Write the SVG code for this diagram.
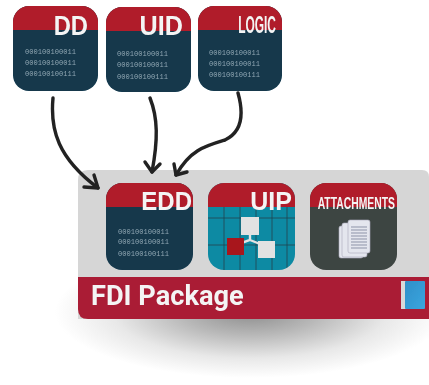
<svg xmlns="http://www.w3.org/2000/svg" width="429" height="385" viewBox="0 0 429 385">
<style>
.hd{font-family:"Liberation Sans",Arial,sans-serif;font-weight:700;fill:#f4f4f4;text-anchor:end}
.bin{font-family:"Liberation Mono",monospace;font-size:7.1px;fill:#92a6b0}
.navy{fill:#12374c}.red{fill:#b01e2a}
.wire{fill:none;stroke:#222;stroke-width:3.4;stroke-linecap:round;stroke-linejoin:round}
.page{fill:#e4e6ee;stroke:#aab;stroke-width:.6}
.rule{stroke:#8d93a8;stroke-width:1}
.grid{stroke:#1d4a58;stroke-width:.9;fill:none}
</style>
<defs>
<filter id="soft" x="-5%" y="-5%" width="110%" height="110%"><feGaussianBlur stdDeviation="0.7"/></filter>
<radialGradient id="shade"><stop offset="0" stop-color="#8c8c8c"/><stop offset=".35" stop-color="#b8b8b8"/><stop offset=".7" stop-color="#e8e8e8"/><stop offset="1" stop-color="#fff"/></radialGradient>
<clipPath id="c1"><rect x="13" y="6" width="85" height="85" rx="16"/></clipPath>
<clipPath id="c2"><rect x="106" y="7" width="85" height="85" rx="16"/></clipPath>
<clipPath id="c3"><rect x="198" y="6" width="84" height="85" rx="16"/></clipPath>
<clipPath id="c4"><rect x="106" y="183" width="87" height="87" rx="16"/></clipPath>
<clipPath id="c5"><rect x="208" y="183" width="87" height="87" rx="16"/></clipPath>
<clipPath id="c6"><rect x="310" y="183" width="87" height="87" rx="16"/></clipPath>
<linearGradient id="book" x1="0" x2="1" y1="0" y2="1"><stop offset="0" stop-color="#2f8fc9"/><stop offset="1" stop-color="#3ba6df"/></linearGradient>
</defs>
<rect width="429" height="385" fill="#fff"/>
<g filter="url(#soft)">
<ellipse id="shadow" cx="250" cy="312" rx="195" ry="66" fill="url(#shade)"/>
<g id="package">
<path d="M88 170H422Q429 170 429 177V319H78V180Q78 170 88 170Z" fill="#d6d6d6"/>
<path d="M78 277H429V319H88Q78 319 78 309Z" fill="#aa1c35"/>
<text x="91" y="305" style="font-family:Roboto,'Liberation Sans',sans-serif;font-weight:700;font-size:27.2px;fill:#f4f4f4">FDI Package</text>
<rect x="401" y="281" width="5" height="28" fill="#d9d9d9"/>
<rect x="405" y="281" width="20" height="28" rx="1" fill="url(#book)"/>
</g>
<g id="dd">
<g clip-path="url(#c1)"><rect class="navy" x="13" y="6" width="85" height="85"/><rect class="red" x="13" y="6" width="85" height="24"/></g>
<text class="hd" transform="translate(88 35) scale(.85 1)" font-size="28">DD</text>
<text class="bin" x="25" y="54">000100100011</text><text class="bin" x="25" y="65">000100100011</text><text class="bin" x="25" y="76">000100100111</text>
</g>
<g id="uid">
<g clip-path="url(#c2)"><rect class="navy" x="106" y="7" width="85" height="85"/><rect class="red" x="106" y="7" width="85" height="24"/></g>
<text class="hd" transform="translate(183 35) scale(.9 1)" font-size="28">UID</text>
<text class="bin" x="117" y="56">000100100011</text><text class="bin" x="117" y="67">000100100011</text><text class="bin" x="117" y="79">000100100111</text>
</g>
<g id="logic">
<g clip-path="url(#c3)"><rect class="navy" x="198" y="6" width="84" height="85"/><rect class="red" x="198" y="6" width="84" height="24"/></g>
<text class="hd" transform="translate(276 33) scale(.52 1)" font-size="23">LOGIC</text>
<text class="bin" x="209" y="55">000100100011</text><text class="bin" x="209" y="66">000100100011</text><text class="bin" x="209" y="77">000100100111</text>
</g>
<g id="edd">
<g clip-path="url(#c4)"><rect class="navy" x="106" y="183" width="87" height="87"/><rect class="red" x="106" y="183" width="87" height="24"/></g>
<text class="hd" transform="translate(192 210) scale(.96 1)" font-size="25">EDD</text>
<text class="bin" x="118" y="234">000100100011</text><text class="bin" x="118" y="244">000100100011</text><text class="bin" x="118" y="256">000100100111</text>
</g>
<g id="uip">
<g clip-path="url(#c5)"><rect x="208" y="183" width="87" height="87" fill="#0e8aa3"/>
<path class="grid" d="M208 218H295M208 245H295M224 207V270M240 207V270M256 207V270M272 207V270M287 207V270"/>
<rect class="red" x="208" y="183" width="87" height="24"/></g>
<path d="M250 225V240L233 246M250 240L270 248" fill="none" stroke="#e2e2e2" stroke-width="2.4"/>
<rect x="241" y="217" width="18" height="18" fill="#e2e2e2"/>
<rect x="227" y="238" width="17" height="17" fill="#a8171f"/>
<rect x="258" y="241" width="17" height="17" fill="#e2e2e2"/>
<text class="hd" x="292" y="210" font-size="25">UIP</text>
</g>
<g id="attachments">
<g clip-path="url(#c6)"><rect x="310" y="183" width="87" height="87" fill="#3e4543"/><rect class="red" x="310" y="183" width="87" height="24"/></g>
<text class="hd" transform="translate(395 209) scale(.61 1)" font-size="17">ATTACHMENTS</text>
<rect class="page" x="339" y="226" width="24" height="32" rx="2"/>
<rect class="page" x="342" y="223" width="25" height="34" rx="2"/>
<rect class="page" x="348" y="220" width="22" height="33" rx="2"/>
<path class="rule" d="M351 227H367M351 230H367M351 233H367M351 236H367M351 239H367M351 242H367M351 245H367M351 248H367"/>
</g>
<g id="connectors">
<path class="wire" d="M53 98C50 130 58 158 98 188"/>
<path class="wire" d="M84 187L98 188L94 175"/>
<path class="wire" d="M150 98C158 118 158 140 152 172"/>
<path class="wire" d="M145 162L152 172L160 164"/>
<path class="wire" d="M238 93C245 118 240 133 225 140C205 146 190 150 176 175"/>
<path class="wire" d="M174 164L176 175L187 172"/>
</g>
</g>
</svg>
